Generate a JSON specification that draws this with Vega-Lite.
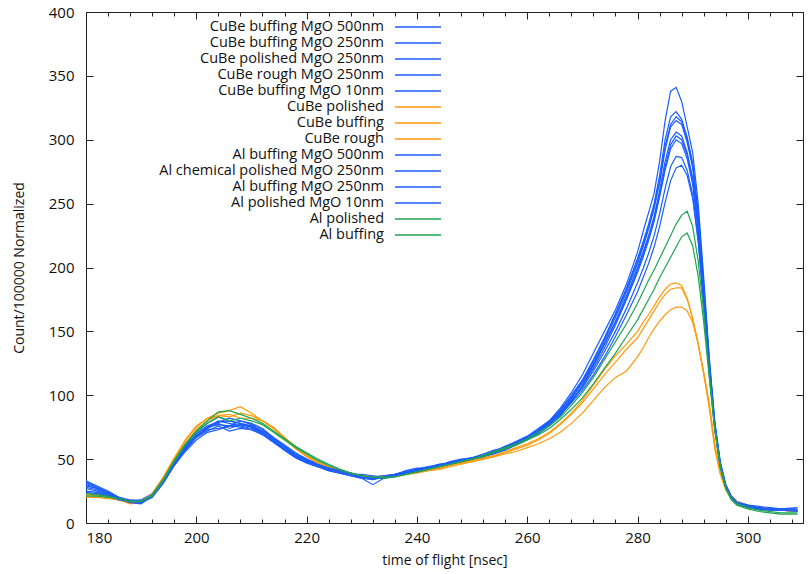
{
"$schema": "https://vega.github.io/schema/vega-lite/v6.json",
"width": 717, "height": 511,
"autosize": {"type": "none"},
"padding": {"left": 86, "top": 12, "right": 9, "bottom": 51},
"background": "white",
"config": {
  "view": {"stroke": "#222", "strokeWidth": 1},
  "font": "Open Sans",
  "axis": {"labelFont": "Open Sans", "titleFont": "Open Sans", "labelFontSize": 15, "titleFontSize": 14, "labelColor": "#111", "titleColor": "#111", "titleFontWeight": "normal", "grid": false, "domain": false, "tickColor": "#222", "tickWidth": 1}
},
"data": {"values": [
{"k":"b1","t":180,"v":32},{"k":"b1","t":182,"v":28},{"k":"b1","t":184,"v":24},{"k":"b1","t":186,"v":20},{"k":"b1","t":188,"v":18},{"k":"b1","t":190,"v":17},{"k":"b1","t":192,"v":21},{"k":"b1","t":194,"v":32},{"k":"b1","t":196,"v":46},{"k":"b1","t":198,"v":58},{"k":"b1","t":200,"v":68},{"k":"b1","t":202,"v":75},{"k":"b1","t":204,"v":80},{"k":"b1","t":206,"v":78},{"k":"b1","t":208,"v":76},{"k":"b1","t":210,"v":74},{"k":"b1","t":212,"v":70},{"k":"b1","t":214,"v":64},{"k":"b1","t":216,"v":58},{"k":"b1","t":218,"v":52},{"k":"b1","t":220,"v":48},{"k":"b1","t":222,"v":45},{"k":"b1","t":224,"v":42},{"k":"b1","t":226,"v":40},{"k":"b1","t":228,"v":38},{"k":"b1","t":230,"v":36},{"k":"b1","t":232,"v":35},{"k":"b1","t":234,"v":36},{"k":"b1","t":236,"v":37},{"k":"b1","t":238,"v":40},{"k":"b1","t":240,"v":41},{"k":"b1","t":242,"v":43},{"k":"b1","t":244,"v":45},{"k":"b1","t":246,"v":47},{"k":"b1","t":248,"v":49},{"k":"b1","t":250,"v":51},{"k":"b1","t":252,"v":53},{"k":"b1","t":254,"v":56},{"k":"b1","t":256,"v":59},{"k":"b1","t":258,"v":63},{"k":"b1","t":260,"v":67},{"k":"b1","t":262,"v":73},{"k":"b1","t":264,"v":80},{"k":"b1","t":266,"v":90},{"k":"b1","t":268,"v":102},{"k":"b1","t":270,"v":116},{"k":"b1","t":272,"v":133},{"k":"b1","t":274,"v":150},{"k":"b1","t":276,"v":167},{"k":"b1","t":278,"v":187},{"k":"b1","t":280,"v":212},{"k":"b1","t":281,"v":228},{"k":"b1","t":282,"v":243},{"k":"b1","t":283,"v":258},{"k":"b1","t":284,"v":283},{"k":"b1","t":285,"v":315},{"k":"b1","t":286,"v":338},{"k":"b1","t":287,"v":341},{"k":"b1","t":288,"v":330},{"k":"b1","t":289,"v":310},{"k":"b1","t":290,"v":290},{"k":"b1","t":291,"v":250},{"k":"b1","t":292,"v":192},{"k":"b1","t":293,"v":130},{"k":"b1","t":294,"v":80},{"k":"b1","t":295,"v":48},{"k":"b1","t":296,"v":30},{"k":"b1","t":297,"v":21},{"k":"b1","t":298,"v":17},{"k":"b1","t":300,"v":14},{"k":"b1","t":302,"v":13},{"k":"b1","t":304,"v":12},{"k":"b1","t":306,"v":11},{"k":"b1","t":309,"v":12},
{"k":"b2","t":180,"v":30},{"k":"b2","t":182,"v":27},{"k":"b2","t":184,"v":23},{"k":"b2","t":186,"v":19},{"k":"b2","t":188,"v":16},{"k":"b2","t":190,"v":16},{"k":"b2","t":192,"v":22},{"k":"b2","t":194,"v":34},{"k":"b2","t":196,"v":48},{"k":"b2","t":198,"v":61},{"k":"b2","t":200,"v":71},{"k":"b2","t":202,"v":78},{"k":"b2","t":204,"v":83},{"k":"b2","t":206,"v":80},{"k":"b2","t":208,"v":78},{"k":"b2","t":210,"v":76},{"k":"b2","t":212,"v":72},{"k":"b2","t":214,"v":67},{"k":"b2","t":216,"v":60},{"k":"b2","t":218,"v":54},{"k":"b2","t":220,"v":50},{"k":"b2","t":222,"v":46},{"k":"b2","t":224,"v":43},{"k":"b2","t":226,"v":41},{"k":"b2","t":228,"v":39},{"k":"b2","t":230,"v":37},{"k":"b2","t":232,"v":36},{"k":"b2","t":234,"v":35},{"k":"b2","t":236,"v":38},{"k":"b2","t":238,"v":39},{"k":"b2","t":240,"v":42},{"k":"b2","t":242,"v":43},{"k":"b2","t":244,"v":44},{"k":"b2","t":246,"v":46},{"k":"b2","t":248,"v":48},{"k":"b2","t":250,"v":50},{"k":"b2","t":252,"v":53},{"k":"b2","t":254,"v":55},{"k":"b2","t":256,"v":58},{"k":"b2","t":258,"v":62},{"k":"b2","t":260,"v":66},{"k":"b2","t":262,"v":72},{"k":"b2","t":264,"v":79},{"k":"b2","t":266,"v":88},{"k":"b2","t":268,"v":100},{"k":"b2","t":270,"v":112},{"k":"b2","t":272,"v":128},{"k":"b2","t":274,"v":145},{"k":"b2","t":276,"v":164},{"k":"b2","t":278,"v":184},{"k":"b2","t":280,"v":207},{"k":"b2","t":281,"v":220},{"k":"b2","t":282,"v":234},{"k":"b2","t":283,"v":250},{"k":"b2","t":284,"v":272},{"k":"b2","t":285,"v":300},{"k":"b2","t":286,"v":318},{"k":"b2","t":287,"v":322},{"k":"b2","t":288,"v":316},{"k":"b2","t":289,"v":302},{"k":"b2","t":290,"v":282},{"k":"b2","t":291,"v":243},{"k":"b2","t":292,"v":187},{"k":"b2","t":293,"v":127},{"k":"b2","t":294,"v":78},{"k":"b2","t":295,"v":47},{"k":"b2","t":296,"v":30},{"k":"b2","t":297,"v":21},{"k":"b2","t":298,"v":17},{"k":"b2","t":300,"v":13},{"k":"b2","t":302,"v":12},{"k":"b2","t":304,"v":11},{"k":"b2","t":306,"v":10},{"k":"b2","t":309,"v":10},
{"k":"b3","t":180,"v":28},{"k":"b3","t":182,"v":26},{"k":"b3","t":184,"v":22},{"k":"b3","t":186,"v":18},{"k":"b3","t":188,"v":17},{"k":"b3","t":190,"v":18},{"k":"b3","t":192,"v":23},{"k":"b3","t":194,"v":35},{"k":"b3","t":196,"v":49},{"k":"b3","t":198,"v":60},{"k":"b3","t":200,"v":70},{"k":"b3","t":202,"v":76},{"k":"b3","t":204,"v":79},{"k":"b3","t":206,"v":82},{"k":"b3","t":208,"v":80},{"k":"b3","t":210,"v":77},{"k":"b3","t":212,"v":73},{"k":"b3","t":214,"v":66},{"k":"b3","t":216,"v":60},{"k":"b3","t":218,"v":53},{"k":"b3","t":220,"v":49},{"k":"b3","t":222,"v":47},{"k":"b3","t":224,"v":44},{"k":"b3","t":226,"v":41},{"k":"b3","t":228,"v":38},{"k":"b3","t":230,"v":38},{"k":"b3","t":232,"v":37},{"k":"b3","t":234,"v":36},{"k":"b3","t":236,"v":37},{"k":"b3","t":238,"v":38},{"k":"b3","t":240,"v":40},{"k":"b3","t":242,"v":42},{"k":"b3","t":244,"v":44},{"k":"b3","t":246,"v":46},{"k":"b3","t":248,"v":48},{"k":"b3","t":250,"v":50},{"k":"b3","t":252,"v":52},{"k":"b3","t":254,"v":55},{"k":"b3","t":256,"v":58},{"k":"b3","t":258,"v":61},{"k":"b3","t":260,"v":66},{"k":"b3","t":262,"v":71},{"k":"b3","t":264,"v":78},{"k":"b3","t":266,"v":87},{"k":"b3","t":268,"v":98},{"k":"b3","t":270,"v":111},{"k":"b3","t":272,"v":127},{"k":"b3","t":274,"v":144},{"k":"b3","t":276,"v":163},{"k":"b3","t":278,"v":183},{"k":"b3","t":280,"v":205},{"k":"b3","t":281,"v":218},{"k":"b3","t":282,"v":232},{"k":"b3","t":283,"v":248},{"k":"b3","t":284,"v":268},{"k":"b3","t":285,"v":295},{"k":"b3","t":286,"v":312},{"k":"b3","t":287,"v":318},{"k":"b3","t":288,"v":314},{"k":"b3","t":289,"v":300},{"k":"b3","t":290,"v":280},{"k":"b3","t":291,"v":240},{"k":"b3","t":292,"v":185},{"k":"b3","t":293,"v":126},{"k":"b3","t":294,"v":78},{"k":"b3","t":295,"v":46},{"k":"b3","t":296,"v":29},{"k":"b3","t":297,"v":20},{"k":"b3","t":298,"v":16},{"k":"b3","t":300,"v":13},{"k":"b3","t":302,"v":12},{"k":"b3","t":304,"v":11},{"k":"b3","t":306,"v":11},{"k":"b3","t":309,"v":10},
{"k":"b4","t":180,"v":25},{"k":"b4","t":182,"v":24},{"k":"b4","t":184,"v":21},{"k":"b4","t":186,"v":18},{"k":"b4","t":188,"v":16},{"k":"b4","t":190,"v":17},{"k":"b4","t":192,"v":21},{"k":"b4","t":194,"v":32},{"k":"b4","t":196,"v":46},{"k":"b4","t":198,"v":59},{"k":"b4","t":200,"v":69},{"k":"b4","t":202,"v":75},{"k":"b4","t":204,"v":77},{"k":"b4","t":206,"v":76},{"k":"b4","t":208,"v":80},{"k":"b4","t":210,"v":78},{"k":"b4","t":212,"v":74},{"k":"b4","t":214,"v":67},{"k":"b4","t":216,"v":61},{"k":"b4","t":218,"v":55},{"k":"b4","t":220,"v":50},{"k":"b4","t":222,"v":46},{"k":"b4","t":224,"v":42},{"k":"b4","t":226,"v":40},{"k":"b4","t":228,"v":37},{"k":"b4","t":230,"v":36},{"k":"b4","t":232,"v":36},{"k":"b4","t":234,"v":37},{"k":"b4","t":236,"v":38},{"k":"b4","t":238,"v":40},{"k":"b4","t":240,"v":42},{"k":"b4","t":242,"v":44},{"k":"b4","t":244,"v":45},{"k":"b4","t":246,"v":47},{"k":"b4","t":248,"v":49},{"k":"b4","t":250,"v":51},{"k":"b4","t":252,"v":53},{"k":"b4","t":254,"v":56},{"k":"b4","t":256,"v":60},{"k":"b4","t":258,"v":63},{"k":"b4","t":260,"v":67},{"k":"b4","t":262,"v":72},{"k":"b4","t":264,"v":78},{"k":"b4","t":266,"v":86},{"k":"b4","t":268,"v":97},{"k":"b4","t":270,"v":110},{"k":"b4","t":272,"v":125},{"k":"b4","t":274,"v":142},{"k":"b4","t":276,"v":161},{"k":"b4","t":278,"v":181},{"k":"b4","t":280,"v":203},{"k":"b4","t":281,"v":216},{"k":"b4","t":282,"v":230},{"k":"b4","t":283,"v":246},{"k":"b4","t":284,"v":266},{"k":"b4","t":285,"v":292},{"k":"b4","t":286,"v":310},{"k":"b4","t":287,"v":315},{"k":"b4","t":288,"v":312},{"k":"b4","t":289,"v":298},{"k":"b4","t":290,"v":278},{"k":"b4","t":291,"v":238},{"k":"b4","t":292,"v":183},{"k":"b4","t":293,"v":125},{"k":"b4","t":294,"v":77},{"k":"b4","t":295,"v":46},{"k":"b4","t":296,"v":29},{"k":"b4","t":297,"v":20},{"k":"b4","t":298,"v":16},{"k":"b4","t":300,"v":12},{"k":"b4","t":302,"v":11},{"k":"b4","t":304,"v":10},{"k":"b4","t":306,"v":10},{"k":"b4","t":309,"v":9},
{"k":"b5","t":180,"v":27},{"k":"b5","t":182,"v":25},{"k":"b5","t":184,"v":22},{"k":"b5","t":186,"v":19},{"k":"b5","t":188,"v":18},{"k":"b5","t":190,"v":18},{"k":"b5","t":192,"v":22},{"k":"b5","t":194,"v":33},{"k":"b5","t":196,"v":47},{"k":"b5","t":198,"v":58},{"k":"b5","t":200,"v":68},{"k":"b5","t":202,"v":74},{"k":"b5","t":204,"v":78},{"k":"b5","t":206,"v":74},{"k":"b5","t":208,"v":77},{"k":"b5","t":210,"v":76},{"k":"b5","t":212,"v":71},{"k":"b5","t":214,"v":65},{"k":"b5","t":216,"v":58},{"k":"b5","t":218,"v":52},{"k":"b5","t":220,"v":48},{"k":"b5","t":222,"v":45},{"k":"b5","t":224,"v":44},{"k":"b5","t":226,"v":41},{"k":"b5","t":228,"v":39},{"k":"b5","t":230,"v":37},{"k":"b5","t":232,"v":34},{"k":"b5","t":234,"v":36},{"k":"b5","t":236,"v":38},{"k":"b5","t":238,"v":40},{"k":"b5","t":240,"v":41},{"k":"b5","t":242,"v":42},{"k":"b5","t":244,"v":44},{"k":"b5","t":246,"v":46},{"k":"b5","t":248,"v":48},{"k":"b5","t":250,"v":50},{"k":"b5","t":252,"v":52},{"k":"b5","t":254,"v":54},{"k":"b5","t":256,"v":57},{"k":"b5","t":258,"v":61},{"k":"b5","t":260,"v":65},{"k":"b5","t":262,"v":70},{"k":"b5","t":264,"v":76},{"k":"b5","t":266,"v":84},{"k":"b5","t":268,"v":95},{"k":"b5","t":270,"v":108},{"k":"b5","t":272,"v":123},{"k":"b5","t":274,"v":140},{"k":"b5","t":276,"v":158},{"k":"b5","t":278,"v":178},{"k":"b5","t":280,"v":200},{"k":"b5","t":281,"v":212},{"k":"b5","t":282,"v":225},{"k":"b5","t":283,"v":240},{"k":"b5","t":284,"v":260},{"k":"b5","t":285,"v":283},{"k":"b5","t":286,"v":300},{"k":"b5","t":287,"v":306},{"k":"b5","t":288,"v":303},{"k":"b5","t":289,"v":290},{"k":"b5","t":290,"v":270},{"k":"b5","t":291,"v":232},{"k":"b5","t":292,"v":180},{"k":"b5","t":293,"v":123},{"k":"b5","t":294,"v":77},{"k":"b5","t":295,"v":46},{"k":"b5","t":296,"v":29},{"k":"b5","t":297,"v":20},{"k":"b5","t":298,"v":16},{"k":"b5","t":300,"v":12},{"k":"b5","t":302,"v":11},{"k":"b5","t":304,"v":11},{"k":"b5","t":306,"v":10},{"k":"b5","t":309,"v":10},
{"k":"o1","t":180,"v":22},{"k":"o1","t":182,"v":21},{"k":"o1","t":184,"v":20},{"k":"o1","t":186,"v":19},{"k":"o1","t":188,"v":16},{"k":"o1","t":190,"v":17},{"k":"o1","t":192,"v":22},{"k":"o1","t":194,"v":35},{"k":"o1","t":196,"v":50},{"k":"o1","t":198,"v":64},{"k":"o1","t":200,"v":75},{"k":"o1","t":202,"v":82},{"k":"o1","t":204,"v":86},{"k":"o1","t":206,"v":88},{"k":"o1","t":208,"v":91},{"k":"o1","t":210,"v":86},{"k":"o1","t":212,"v":80},{"k":"o1","t":214,"v":74},{"k":"o1","t":216,"v":67},{"k":"o1","t":218,"v":59},{"k":"o1","t":220,"v":52},{"k":"o1","t":222,"v":47},{"k":"o1","t":224,"v":43},{"k":"o1","t":226,"v":40},{"k":"o1","t":228,"v":38},{"k":"o1","t":230,"v":37},{"k":"o1","t":232,"v":36},{"k":"o1","t":234,"v":36},{"k":"o1","t":236,"v":37},{"k":"o1","t":238,"v":38},{"k":"o1","t":240,"v":40},{"k":"o1","t":242,"v":42},{"k":"o1","t":244,"v":43},{"k":"o1","t":246,"v":45},{"k":"o1","t":248,"v":47},{"k":"o1","t":250,"v":49},{"k":"o1","t":252,"v":51},{"k":"o1","t":254,"v":53},{"k":"o1","t":256,"v":56},{"k":"o1","t":258,"v":59},{"k":"o1","t":260,"v":62},{"k":"o1","t":262,"v":66},{"k":"o1","t":264,"v":71},{"k":"o1","t":266,"v":78},{"k":"o1","t":268,"v":86},{"k":"o1","t":270,"v":96},{"k":"o1","t":272,"v":108},{"k":"o1","t":274,"v":120},{"k":"o1","t":276,"v":131},{"k":"o1","t":278,"v":140},{"k":"o1","t":280,"v":150},{"k":"o1","t":281,"v":157},{"k":"o1","t":282,"v":163},{"k":"o1","t":283,"v":170},{"k":"o1","t":284,"v":177},{"k":"o1","t":285,"v":183},{"k":"o1","t":286,"v":187},{"k":"o1","t":287,"v":188},{"k":"o1","t":288,"v":186},{"k":"o1","t":289,"v":176},{"k":"o1","t":290,"v":160},{"k":"o1","t":291,"v":140},{"k":"o1","t":292,"v":118},{"k":"o1","t":293,"v":94},{"k":"o1","t":294,"v":62},{"k":"o1","t":295,"v":40},{"k":"o1","t":296,"v":27},{"k":"o1","t":297,"v":20},{"k":"o1","t":298,"v":17},{"k":"o1","t":300,"v":13},{"k":"o1","t":302,"v":12},{"k":"o1","t":304,"v":11},{"k":"o1","t":306,"v":10},{"k":"o1","t":309,"v":9},
{"k":"o2","t":180,"v":20},{"k":"o2","t":182,"v":20},{"k":"o2","t":184,"v":19},{"k":"o2","t":186,"v":18},{"k":"o2","t":188,"v":16},{"k":"o2","t":190,"v":17},{"k":"o2","t":192,"v":23},{"k":"o2","t":194,"v":36},{"k":"o2","t":196,"v":51},{"k":"o2","t":198,"v":65},{"k":"o2","t":200,"v":76},{"k":"o2","t":202,"v":82},{"k":"o2","t":204,"v":84},{"k":"o2","t":206,"v":83},{"k":"o2","t":208,"v":86},{"k":"o2","t":210,"v":84},{"k":"o2","t":212,"v":80},{"k":"o2","t":214,"v":74},{"k":"o2","t":216,"v":66},{"k":"o2","t":218,"v":58},{"k":"o2","t":220,"v":52},{"k":"o2","t":222,"v":47},{"k":"o2","t":224,"v":44},{"k":"o2","t":226,"v":41},{"k":"o2","t":228,"v":39},{"k":"o2","t":230,"v":37},{"k":"o2","t":232,"v":36},{"k":"o2","t":234,"v":36},{"k":"o2","t":236,"v":37},{"k":"o2","t":238,"v":38},{"k":"o2","t":240,"v":40},{"k":"o2","t":242,"v":41},{"k":"o2","t":244,"v":43},{"k":"o2","t":246,"v":45},{"k":"o2","t":248,"v":47},{"k":"o2","t":250,"v":48},{"k":"o2","t":252,"v":50},{"k":"o2","t":254,"v":52},{"k":"o2","t":256,"v":55},{"k":"o2","t":258,"v":58},{"k":"o2","t":260,"v":61},{"k":"o2","t":262,"v":65},{"k":"o2","t":264,"v":70},{"k":"o2","t":266,"v":77},{"k":"o2","t":268,"v":85},{"k":"o2","t":270,"v":94},{"k":"o2","t":272,"v":105},{"k":"o2","t":274,"v":116},{"k":"o2","t":276,"v":126},{"k":"o2","t":278,"v":136},{"k":"o2","t":280,"v":145},{"k":"o2","t":281,"v":152},{"k":"o2","t":282,"v":159},{"k":"o2","t":283,"v":166},{"k":"o2","t":284,"v":173},{"k":"o2","t":285,"v":179},{"k":"o2","t":286,"v":183},{"k":"o2","t":287,"v":184},{"k":"o2","t":288,"v":184},{"k":"o2","t":289,"v":175},{"k":"o2","t":290,"v":160},{"k":"o2","t":291,"v":140},{"k":"o2","t":292,"v":117},{"k":"o2","t":293,"v":92},{"k":"o2","t":294,"v":60},{"k":"o2","t":295,"v":39},{"k":"o2","t":296,"v":26},{"k":"o2","t":297,"v":19},{"k":"o2","t":298,"v":16},{"k":"o2","t":300,"v":13},{"k":"o2","t":302,"v":12},{"k":"o2","t":304,"v":11},{"k":"o2","t":306,"v":10},{"k":"o2","t":309,"v":10},
{"k":"o3","t":180,"v":23},{"k":"o3","t":182,"v":22},{"k":"o3","t":184,"v":20},{"k":"o3","t":186,"v":18},{"k":"o3","t":188,"v":15},{"k":"o3","t":190,"v":16},{"k":"o3","t":192,"v":21},{"k":"o3","t":194,"v":33},{"k":"o3","t":196,"v":48},{"k":"o3","t":198,"v":62},{"k":"o3","t":200,"v":73},{"k":"o3","t":202,"v":80},{"k":"o3","t":204,"v":84},{"k":"o3","t":206,"v":85},{"k":"o3","t":208,"v":82},{"k":"o3","t":210,"v":82},{"k":"o3","t":212,"v":80},{"k":"o3","t":214,"v":75},{"k":"o3","t":216,"v":67},{"k":"o3","t":218,"v":60},{"k":"o3","t":220,"v":53},{"k":"o3","t":222,"v":48},{"k":"o3","t":224,"v":44},{"k":"o3","t":226,"v":41},{"k":"o3","t":228,"v":39},{"k":"o3","t":230,"v":37},{"k":"o3","t":232,"v":36},{"k":"o3","t":234,"v":36},{"k":"o3","t":236,"v":37},{"k":"o3","t":238,"v":38},{"k":"o3","t":240,"v":39},{"k":"o3","t":242,"v":41},{"k":"o3","t":244,"v":42},{"k":"o3","t":246,"v":44},{"k":"o3","t":248,"v":46},{"k":"o3","t":250,"v":48},{"k":"o3","t":252,"v":50},{"k":"o3","t":254,"v":52},{"k":"o3","t":256,"v":54},{"k":"o3","t":258,"v":56},{"k":"o3","t":260,"v":59},{"k":"o3","t":262,"v":62},{"k":"o3","t":264,"v":66},{"k":"o3","t":266,"v":71},{"k":"o3","t":268,"v":78},{"k":"o3","t":270,"v":86},{"k":"o3","t":272,"v":96},{"k":"o3","t":274,"v":106},{"k":"o3","t":276,"v":114},{"k":"o3","t":278,"v":119},{"k":"o3","t":280,"v":130},{"k":"o3","t":281,"v":137},{"k":"o3","t":282,"v":145},{"k":"o3","t":283,"v":152},{"k":"o3","t":284,"v":158},{"k":"o3","t":285,"v":163},{"k":"o3","t":286,"v":167},{"k":"o3","t":287,"v":169},{"k":"o3","t":288,"v":169},{"k":"o3","t":289,"v":166},{"k":"o3","t":290,"v":157},{"k":"o3","t":291,"v":140},{"k":"o3","t":292,"v":117},{"k":"o3","t":293,"v":90},{"k":"o3","t":294,"v":58},{"k":"o3","t":295,"v":38},{"k":"o3","t":296,"v":26},{"k":"o3","t":297,"v":19},{"k":"o3","t":298,"v":16},{"k":"o3","t":300,"v":13},{"k":"o3","t":302,"v":12},{"k":"o3","t":304,"v":11},{"k":"o3","t":306,"v":10},{"k":"o3","t":309,"v":9},
{"k":"b6","t":180,"v":33},{"k":"b6","t":182,"v":29},{"k":"b6","t":184,"v":25},{"k":"b6","t":186,"v":20},{"k":"b6","t":188,"v":17},{"k":"b6","t":190,"v":16},{"k":"b6","t":192,"v":20},{"k":"b6","t":194,"v":31},{"k":"b6","t":196,"v":45},{"k":"b6","t":198,"v":57},{"k":"b6","t":200,"v":67},{"k":"b6","t":202,"v":74},{"k":"b6","t":204,"v":79},{"k":"b6","t":206,"v":80},{"k":"b6","t":208,"v":78},{"k":"b6","t":210,"v":75},{"k":"b6","t":212,"v":71},{"k":"b6","t":214,"v":65},{"k":"b6","t":216,"v":58},{"k":"b6","t":218,"v":52},{"k":"b6","t":220,"v":48},{"k":"b6","t":222,"v":45},{"k":"b6","t":224,"v":43},{"k":"b6","t":226,"v":40},{"k":"b6","t":228,"v":38},{"k":"b6","t":230,"v":36},{"k":"b6","t":232,"v":35},{"k":"b6","t":234,"v":35},{"k":"b6","t":236,"v":37},{"k":"b6","t":238,"v":39},{"k":"b6","t":240,"v":41},{"k":"b6","t":242,"v":43},{"k":"b6","t":244,"v":45},{"k":"b6","t":246,"v":48},{"k":"b6","t":248,"v":50},{"k":"b6","t":250,"v":51},{"k":"b6","t":252,"v":53},{"k":"b6","t":254,"v":56},{"k":"b6","t":256,"v":60},{"k":"b6","t":258,"v":64},{"k":"b6","t":260,"v":68},{"k":"b6","t":262,"v":74},{"k":"b6","t":264,"v":80},{"k":"b6","t":266,"v":89},{"k":"b6","t":268,"v":99},{"k":"b6","t":270,"v":110},{"k":"b6","t":272,"v":124},{"k":"b6","t":274,"v":140},{"k":"b6","t":276,"v":157},{"k":"b6","t":278,"v":176},{"k":"b6","t":280,"v":198},{"k":"b6","t":281,"v":210},{"k":"b6","t":282,"v":223},{"k":"b6","t":283,"v":238},{"k":"b6","t":284,"v":257},{"k":"b6","t":285,"v":279},{"k":"b6","t":286,"v":296},{"k":"b6","t":287,"v":303},{"k":"b6","t":288,"v":300},{"k":"b6","t":289,"v":288},{"k":"b6","t":290,"v":268},{"k":"b6","t":291,"v":230},{"k":"b6","t":292,"v":178},{"k":"b6","t":293,"v":122},{"k":"b6","t":294,"v":76},{"k":"b6","t":295,"v":45},{"k":"b6","t":296,"v":28},{"k":"b6","t":297,"v":20},{"k":"b6","t":298,"v":16},{"k":"b6","t":300,"v":13},{"k":"b6","t":302,"v":12},{"k":"b6","t":304,"v":11},{"k":"b6","t":306,"v":11},{"k":"b6","t":309,"v":11},
{"k":"b7","t":180,"v":29},{"k":"b7","t":182,"v":27},{"k":"b7","t":184,"v":24},{"k":"b7","t":186,"v":20},{"k":"b7","t":188,"v":17},{"k":"b7","t":190,"v":17},{"k":"b7","t":192,"v":22},{"k":"b7","t":194,"v":34},{"k":"b7","t":196,"v":48},{"k":"b7","t":198,"v":59},{"k":"b7","t":200,"v":68},{"k":"b7","t":202,"v":73},{"k":"b7","t":204,"v":74},{"k":"b7","t":206,"v":76},{"k":"b7","t":208,"v":77},{"k":"b7","t":210,"v":75},{"k":"b7","t":212,"v":70},{"k":"b7","t":214,"v":64},{"k":"b7","t":216,"v":57},{"k":"b7","t":218,"v":51},{"k":"b7","t":220,"v":47},{"k":"b7","t":222,"v":44},{"k":"b7","t":224,"v":41},{"k":"b7","t":226,"v":39},{"k":"b7","t":228,"v":37},{"k":"b7","t":230,"v":35},{"k":"b7","t":232,"v":30},{"k":"b7","t":234,"v":35},{"k":"b7","t":236,"v":38},{"k":"b7","t":238,"v":41},{"k":"b7","t":240,"v":43},{"k":"b7","t":242,"v":43},{"k":"b7","t":244,"v":46},{"k":"b7","t":246,"v":47},{"k":"b7","t":248,"v":49},{"k":"b7","t":250,"v":51},{"k":"b7","t":252,"v":54},{"k":"b7","t":254,"v":57},{"k":"b7","t":256,"v":59},{"k":"b7","t":258,"v":62},{"k":"b7","t":260,"v":66},{"k":"b7","t":262,"v":71},{"k":"b7","t":264,"v":77},{"k":"b7","t":266,"v":85},{"k":"b7","t":268,"v":95},{"k":"b7","t":270,"v":107},{"k":"b7","t":272,"v":121},{"k":"b7","t":274,"v":137},{"k":"b7","t":276,"v":155},{"k":"b7","t":278,"v":175},{"k":"b7","t":280,"v":196},{"k":"b7","t":281,"v":208},{"k":"b7","t":282,"v":221},{"k":"b7","t":283,"v":236},{"k":"b7","t":284,"v":255},{"k":"b7","t":285,"v":276},{"k":"b7","t":286,"v":293},{"k":"b7","t":287,"v":300},{"k":"b7","t":288,"v":297},{"k":"b7","t":289,"v":285},{"k":"b7","t":290,"v":265},{"k":"b7","t":291,"v":228},{"k":"b7","t":292,"v":176},{"k":"b7","t":293,"v":120},{"k":"b7","t":294,"v":75},{"k":"b7","t":295,"v":45},{"k":"b7","t":296,"v":28},{"k":"b7","t":297,"v":20},{"k":"b7","t":298,"v":16},{"k":"b7","t":300,"v":14},{"k":"b7","t":302,"v":12},{"k":"b7","t":304,"v":11},{"k":"b7","t":306,"v":10},{"k":"b7","t":309,"v":10},
{"k":"b8","t":180,"v":31},{"k":"b8","t":182,"v":28},{"k":"b8","t":184,"v":23},{"k":"b8","t":186,"v":19},{"k":"b8","t":188,"v":16},{"k":"b8","t":190,"v":15},{"k":"b8","t":192,"v":21},{"k":"b8","t":194,"v":33},{"k":"b8","t":196,"v":47},{"k":"b8","t":198,"v":58},{"k":"b8","t":200,"v":67},{"k":"b8","t":202,"v":72},{"k":"b8","t":204,"v":76},{"k":"b8","t":206,"v":72},{"k":"b8","t":208,"v":74},{"k":"b8","t":210,"v":73},{"k":"b8","t":212,"v":69},{"k":"b8","t":214,"v":63},{"k":"b8","t":216,"v":57},{"k":"b8","t":218,"v":51},{"k":"b8","t":220,"v":47},{"k":"b8","t":222,"v":44},{"k":"b8","t":224,"v":41},{"k":"b8","t":226,"v":39},{"k":"b8","t":228,"v":37},{"k":"b8","t":230,"v":35},{"k":"b8","t":232,"v":34},{"k":"b8","t":234,"v":36},{"k":"b8","t":236,"v":37},{"k":"b8","t":238,"v":39},{"k":"b8","t":240,"v":40},{"k":"b8","t":242,"v":42},{"k":"b8","t":244,"v":44},{"k":"b8","t":246,"v":46},{"k":"b8","t":248,"v":48},{"k":"b8","t":250,"v":50},{"k":"b8","t":252,"v":52},{"k":"b8","t":254,"v":55},{"k":"b8","t":256,"v":58},{"k":"b8","t":258,"v":62},{"k":"b8","t":260,"v":66},{"k":"b8","t":262,"v":72},{"k":"b8","t":264,"v":79},{"k":"b8","t":266,"v":86},{"k":"b8","t":268,"v":96},{"k":"b8","t":270,"v":106},{"k":"b8","t":272,"v":119},{"k":"b8","t":274,"v":134},{"k":"b8","t":276,"v":150},{"k":"b8","t":278,"v":168},{"k":"b8","t":280,"v":188},{"k":"b8","t":281,"v":199},{"k":"b8","t":282,"v":211},{"k":"b8","t":283,"v":225},{"k":"b8","t":284,"v":242},{"k":"b8","t":285,"v":262},{"k":"b8","t":286,"v":279},{"k":"b8","t":287,"v":287},{"k":"b8","t":288,"v":286},{"k":"b8","t":289,"v":276},{"k":"b8","t":290,"v":257},{"k":"b8","t":291,"v":222},{"k":"b8","t":292,"v":172},{"k":"b8","t":293,"v":118},{"k":"b8","t":294,"v":74},{"k":"b8","t":295,"v":44},{"k":"b8","t":296,"v":28},{"k":"b8","t":297,"v":19},{"k":"b8","t":298,"v":15},{"k":"b8","t":300,"v":12},{"k":"b8","t":302,"v":11},{"k":"b8","t":304,"v":11},{"k":"b8","t":306,"v":10},{"k":"b8","t":309,"v":10},
{"k":"b9","t":180,"v":24},{"k":"b9","t":182,"v":23},{"k":"b9","t":184,"v":21},{"k":"b9","t":186,"v":18},{"k":"b9","t":188,"v":17},{"k":"b9","t":190,"v":17},{"k":"b9","t":192,"v":21},{"k":"b9","t":194,"v":32},{"k":"b9","t":196,"v":45},{"k":"b9","t":198,"v":56},{"k":"b9","t":200,"v":65},{"k":"b9","t":202,"v":71},{"k":"b9","t":204,"v":73},{"k":"b9","t":206,"v":76},{"k":"b9","t":208,"v":75},{"k":"b9","t":210,"v":73},{"k":"b9","t":212,"v":70},{"k":"b9","t":214,"v":65},{"k":"b9","t":216,"v":59},{"k":"b9","t":218,"v":53},{"k":"b9","t":220,"v":49},{"k":"b9","t":222,"v":46},{"k":"b9","t":224,"v":43},{"k":"b9","t":226,"v":41},{"k":"b9","t":228,"v":39},{"k":"b9","t":230,"v":37},{"k":"b9","t":232,"v":36},{"k":"b9","t":234,"v":37},{"k":"b9","t":236,"v":38},{"k":"b9","t":238,"v":40},{"k":"b9","t":240,"v":42},{"k":"b9","t":242,"v":44},{"k":"b9","t":244,"v":46},{"k":"b9","t":246,"v":47},{"k":"b9","t":248,"v":49},{"k":"b9","t":250,"v":51},{"k":"b9","t":252,"v":53},{"k":"b9","t":254,"v":56},{"k":"b9","t":256,"v":59},{"k":"b9","t":258,"v":63},{"k":"b9","t":260,"v":67},{"k":"b9","t":262,"v":72},{"k":"b9","t":264,"v":78},{"k":"b9","t":266,"v":85},{"k":"b9","t":268,"v":94},{"k":"b9","t":270,"v":104},{"k":"b9","t":272,"v":116},{"k":"b9","t":274,"v":130},{"k":"b9","t":276,"v":146},{"k":"b9","t":278,"v":163},{"k":"b9","t":280,"v":181},{"k":"b9","t":281,"v":192},{"k":"b9","t":282,"v":203},{"k":"b9","t":283,"v":216},{"k":"b9","t":284,"v":232},{"k":"b9","t":285,"v":251},{"k":"b9","t":286,"v":268},{"k":"b9","t":287,"v":278},{"k":"b9","t":288,"v":280},{"k":"b9","t":289,"v":272},{"k":"b9","t":290,"v":254},{"k":"b9","t":291,"v":220},{"k":"b9","t":292,"v":170},{"k":"b9","t":293,"v":116},{"k":"b9","t":294,"v":73},{"k":"b9","t":295,"v":44},{"k":"b9","t":296,"v":28},{"k":"b9","t":297,"v":19},{"k":"b9","t":298,"v":15},{"k":"b9","t":300,"v":12},{"k":"b9","t":302,"v":11},{"k":"b9","t":304,"v":10},{"k":"b9","t":306,"v":10},{"k":"b9","t":309,"v":9},
{"k":"g1","t":180,"v":23},{"k":"g1","t":182,"v":22},{"k":"g1","t":184,"v":21},{"k":"g1","t":186,"v":19},{"k":"g1","t":188,"v":17},{"k":"g1","t":190,"v":17},{"k":"g1","t":192,"v":22},{"k":"g1","t":194,"v":34},{"k":"g1","t":196,"v":49},{"k":"g1","t":198,"v":62},{"k":"g1","t":200,"v":72},{"k":"g1","t":202,"v":80},{"k":"g1","t":204,"v":87},{"k":"g1","t":206,"v":88},{"k":"g1","t":208,"v":85},{"k":"g1","t":210,"v":82},{"k":"g1","t":212,"v":78},{"k":"g1","t":214,"v":72},{"k":"g1","t":216,"v":66},{"k":"g1","t":218,"v":60},{"k":"g1","t":220,"v":55},{"k":"g1","t":222,"v":50},{"k":"g1","t":224,"v":46},{"k":"g1","t":226,"v":42},{"k":"g1","t":228,"v":39},{"k":"g1","t":230,"v":37},{"k":"g1","t":232,"v":36},{"k":"g1","t":234,"v":35},{"k":"g1","t":236,"v":36},{"k":"g1","t":238,"v":38},{"k":"g1","t":240,"v":40},{"k":"g1","t":242,"v":42},{"k":"g1","t":244,"v":44},{"k":"g1","t":246,"v":46},{"k":"g1","t":248,"v":48},{"k":"g1","t":250,"v":50},{"k":"g1","t":252,"v":53},{"k":"g1","t":254,"v":56},{"k":"g1","t":256,"v":59},{"k":"g1","t":258,"v":62},{"k":"g1","t":260,"v":66},{"k":"g1","t":262,"v":71},{"k":"g1","t":264,"v":76},{"k":"g1","t":266,"v":83},{"k":"g1","t":268,"v":92},{"k":"g1","t":270,"v":102},{"k":"g1","t":272,"v":114},{"k":"g1","t":274,"v":128},{"k":"g1","t":276,"v":142},{"k":"g1","t":278,"v":156},{"k":"g1","t":280,"v":172},{"k":"g1","t":281,"v":181},{"k":"g1","t":282,"v":190},{"k":"g1","t":283,"v":198},{"k":"g1","t":284,"v":207},{"k":"g1","t":285,"v":216},{"k":"g1","t":286,"v":225},{"k":"g1","t":287,"v":234},{"k":"g1","t":288,"v":241},{"k":"g1","t":289,"v":244},{"k":"g1","t":290,"v":232},{"k":"g1","t":291,"v":205},{"k":"g1","t":292,"v":165},{"k":"g1","t":293,"v":118},{"k":"g1","t":294,"v":75},{"k":"g1","t":295,"v":45},{"k":"g1","t":296,"v":28},{"k":"g1","t":297,"v":19},{"k":"g1","t":298,"v":15},{"k":"g1","t":300,"v":12},{"k":"g1","t":302,"v":10},{"k":"g1","t":304,"v":9},{"k":"g1","t":306,"v":8},{"k":"g1","t":309,"v":8},
{"k":"g2","t":180,"v":21},{"k":"g2","t":182,"v":21},{"k":"g2","t":184,"v":20},{"k":"g2","t":186,"v":19},{"k":"g2","t":188,"v":17},{"k":"g2","t":190,"v":17},{"k":"g2","t":192,"v":21},{"k":"g2","t":194,"v":33},{"k":"g2","t":196,"v":48},{"k":"g2","t":198,"v":61},{"k":"g2","t":200,"v":71},{"k":"g2","t":202,"v":78},{"k":"g2","t":204,"v":83},{"k":"g2","t":206,"v":80},{"k":"g2","t":208,"v":82},{"k":"g2","t":210,"v":80},{"k":"g2","t":212,"v":77},{"k":"g2","t":214,"v":71},{"k":"g2","t":216,"v":65},{"k":"g2","t":218,"v":59},{"k":"g2","t":220,"v":54},{"k":"g2","t":222,"v":49},{"k":"g2","t":224,"v":45},{"k":"g2","t":226,"v":42},{"k":"g2","t":228,"v":39},{"k":"g2","t":230,"v":37},{"k":"g2","t":232,"v":36},{"k":"g2","t":234,"v":36},{"k":"g2","t":236,"v":36},{"k":"g2","t":238,"v":38},{"k":"g2","t":240,"v":40},{"k":"g2","t":242,"v":42},{"k":"g2","t":244,"v":44},{"k":"g2","t":246,"v":46},{"k":"g2","t":248,"v":48},{"k":"g2","t":250,"v":50},{"k":"g2","t":252,"v":52},{"k":"g2","t":254,"v":55},{"k":"g2","t":256,"v":58},{"k":"g2","t":258,"v":61},{"k":"g2","t":260,"v":65},{"k":"g2","t":262,"v":69},{"k":"g2","t":264,"v":74},{"k":"g2","t":266,"v":81},{"k":"g2","t":268,"v":89},{"k":"g2","t":270,"v":98},{"k":"g2","t":272,"v":109},{"k":"g2","t":274,"v":121},{"k":"g2","t":276,"v":133},{"k":"g2","t":278,"v":146},{"k":"g2","t":280,"v":159},{"k":"g2","t":281,"v":167},{"k":"g2","t":282,"v":175},{"k":"g2","t":283,"v":183},{"k":"g2","t":284,"v":192},{"k":"g2","t":285,"v":200},{"k":"g2","t":286,"v":208},{"k":"g2","t":287,"v":216},{"k":"g2","t":288,"v":224},{"k":"g2","t":289,"v":227},{"k":"g2","t":290,"v":217},{"k":"g2","t":291,"v":193},{"k":"g2","t":292,"v":157},{"k":"g2","t":293,"v":114},{"k":"g2","t":294,"v":73},{"k":"g2","t":295,"v":44},{"k":"g2","t":296,"v":27},{"k":"g2","t":297,"v":18},{"k":"g2","t":298,"v":14},{"k":"g2","t":300,"v":11},{"k":"g2","t":302,"v":9},{"k":"g2","t":304,"v":8},{"k":"g2","t":306,"v":7},{"k":"g2","t":309,"v":7}
]},
"layer": [
  {
    "mark": {"type": "line", "strokeWidth": 1.2},
    "encoding": {
      "x": {"field": "t", "type": "quantitative", "scale": {"domain": [180, 310], "nice": false, "zero": false},
            "axis": {"orient": "bottom", "values": [180, 200, 220, 240, 260, 280, 300], "tickSize": -7, "labelPadding": 14, "title": "time of flight [nsec]", "titlePadding": 8}},
      "y": {"field": "v", "type": "quantitative", "scale": {"domain": [0, 400], "nice": false},
            "axis": {"orient": "left", "values": [0, 50, 100, 150, 200, 250, 300, 350, 400], "tickSize": -7, "labelPadding": 19, "title": "Count/100000 Normalized", "titlePadding": 22}},
      "color": {"field": "k", "type": "nominal",
        "scale": {"domain": ["b1","b2","b3","b4","b5","o1","o2","o3","b6","b7","b8","b9","g1","g2"],
                  "range": ["#1a5cff","#1a5cff","#1a5cff","#1a5cff","#1a5cff","#ff9a0a","#ff9a0a","#ff9a0a","#1a5cff","#1a5cff","#1a5cff","#1a5cff","#1ca650","#1ca650"]},
        "legend": {"orient": "none", "legendX": 323, "legendY": 6, "title": null, "symbolType": "M-2.875,0H2.875", "symbolSize": 256, "symbolStrokeWidth": 1.3, "symbolFillColor": "transparent",
                   "labelAlign": "right", "labelOffset": -43, "labelLimit": 400, "labelFontSize": 14.5, "labelFont": "Open Sans", "labelColor": "#111",
                   "rowPadding": 0, "padding": 0,
                   "labelExpr": "({'b1':'CuBe buffing MgO 500nm','b2':'CuBe buffing MgO 250nm','b3':'CuBe polished MgO 250nm','b4':'CuBe rough MgO 250nm','b5':'CuBe buffing MgO 10nm','o1':'CuBe polished','o2':'CuBe buffing','o3':'CuBe rough','b6':'Al buffing MgO 500nm','b7':'Al chemical polished MgO 250nm','b8':'Al buffing MgO 250nm','b9':'Al polished MgO 10nm','g1':'Al polished','g2':'Al buffing'})[datum.value]"}}
    }
  },
  {
    "mark": {"type": "line", "opacity": 0},
    "encoding": {
      "x": {"field": "t", "type": "quantitative", "axis": {"orient": "bottom", "values": [184,188,192,196,204,208,212,216,224,228,232,236,244,248,252,256,264,268,272,276,284,288,292,296,304,308], "tickSize": -4, "labels": false, "title": null}},
      "y": {"field": "v", "type": "quantitative", "axis": {"orient": "right", "values": [0, 50, 100, 150, 200, 250, 300, 350, 400], "tickSize": -7, "labels": false, "title": null}}
    }
  },
  {
    "mark": {"type": "line", "opacity": 0},
    "encoding": {
      "x": {"field": "t", "type": "quantitative", "axis": {"orient": "top", "values": [180, 200, 220, 240, 260, 280, 300], "tickSize": -7, "labels": false, "title": null}},
      "y": {"field": "v", "type": "quantitative", "axis": null}
    }
  },
  {
    "mark": {"type": "line", "opacity": 0},
    "encoding": {
      "x": {"field": "t", "type": "quantitative", "axis": {"orient": "top", "values": [184,188,192,196,204,208,212,216,224,228,232,236,244,248,252,256,264,268,272,276,284,288,292,296,304,308], "tickSize": -4, "labels": false, "title": null}},
      "y": {"field": "v", "type": "quantitative", "axis": null}
    }
  }
],
"resolve": {"axis": {"x": "independent", "y": "independent"}}
}
